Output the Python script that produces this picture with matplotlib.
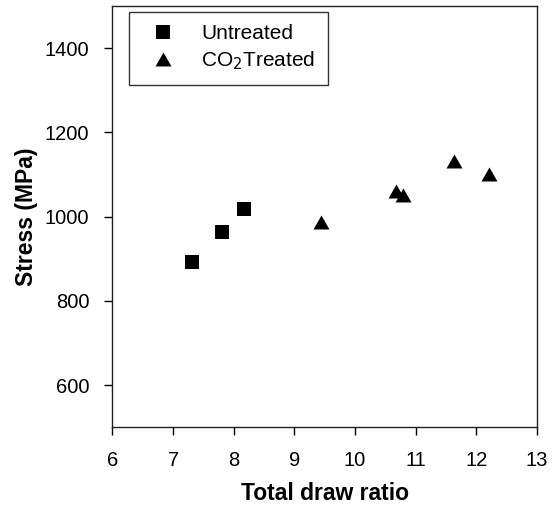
import matplotlib
matplotlib.use("Agg")
import matplotlib.pyplot as plt
from matplotlib.path import Path

plt.rcParams['font.family'] = ['Liberation Sans', 'DejaVu Sans']

untreated_x = [7.31, 7.80, 8.17]
untreated_y = [892, 963, 1018]
treated_x = [9.44, 10.68, 10.79, 11.63, 12.20]
treated_y = [987, 1060, 1052, 1133, 1102]
xticks = [6, 7, 8, 9, 10, 11, 12, 13]
yticks = [600, 800, 1000, 1200, 1400]

tri = Path([(-1, -0.875), (1, -0.875), (0, 0.875), (-1, -0.875)],
           [Path.MOVETO, Path.LINETO, Path.LINETO, Path.CLOSEPOLY])

fig = plt.figure(figsize=(5.58, 5.07), dpi=100)
ax = fig.add_axes([0.2016, 0.1574, 0.7608, 0.8308])

ax.plot(untreated_x, untreated_y, 's', color='black', ms=9.7, mew=0,
        label='Untreated', linestyle='none')
ax.plot(treated_x, treated_y, marker=tri, color='black', ms=11.5, mew=0,
        label='CO$_2$Treated', linestyle='none')

ax.set_xlim(6, 13)
ax.set_ylim(500, 1500)
ax.set_xticks(xticks)
ax.set_yticks(yticks)
ax.tick_params(direction='out', length=6.1, width=1, labelsize=14.5)
ax.tick_params(axis='x', pad=11)
ax.tick_params(axis='y', pad=10.5)
for s in ax.spines.values():
    s.set_linewidth(1)
    s.set_color('#222222')

ax.set_xlabel('Total draw ratio', fontsize=16.5, fontweight='bold', labelpad=9)
ax.set_ylabel('Stress (MPa)', fontsize=16.5, fontweight='bold', labelpad=5)

leg = ax.legend(loc='upper left', bbox_to_anchor=(0.0396, 0.9865), borderaxespad=0,
                fontsize=15, frameon=True, fancybox=False, edgecolor='black',
                handletextpad=0.78, borderpad=0.6, labelspacing=0.3, handlelength=2.06,
                markerscale=1.0)
leg.get_frame().set_linewidth(1)

fig.savefig('out.png', dpi=100)
